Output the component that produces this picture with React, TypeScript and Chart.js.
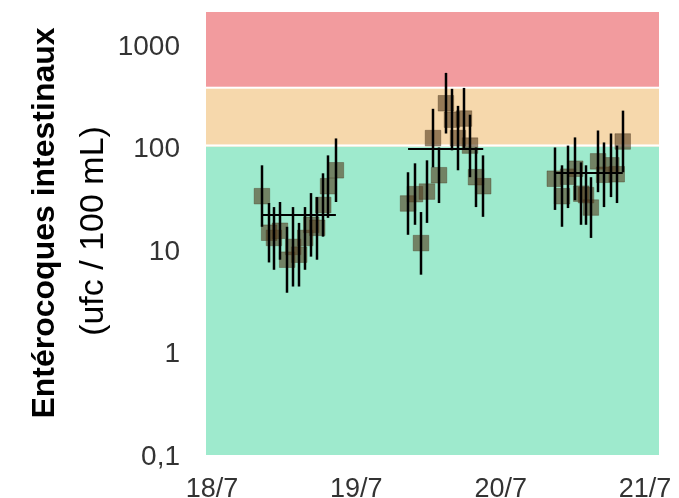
import React, { useEffect, useRef } from "react";
import { Chart, registerables } from "chart.js";

Chart.register(...registerables);

// ---- Axis data ----
const dayTickHours = [0, 24, 48, 72];
const dayLabels = ["18/7", "19/7", "20/7", "21/7"];
const yTickValues = [0.1, 1, 10, 100, 1000];
const yTickLabels = ["0,1", "1", "10", "100", "1000"];
const yMin = 0.1;
const yMax = 2190;
const xMinHours = -1;
const xMaxHours = 74.33;

// ---- Quality thresholds (band limits) ----
const bandLimits = [100, 400];

// ---- Series: hours since 18/7 00:00, values, lower/upper error ----
const hours1 = [8.3, 9.5, 10.3, 11.3, 12.5, 13.5, 14.5, 15.5, 16.5, 17.5, 18.5, 19.3, 20.6];
const values1 = [35, 15.4, 13.7, 16.1, 8.4, 11.2, 9.4, 13.7, 18.4, 17.2, 28.7, 43.8, 62.6];
const low1 = [17.6, 7.9, 6.7, 8.4, 4.0, 4.6, 4.6, 6.7, 9.0, 8.4, 14.1, 21.5, 30.7];
const high1 = [70, 30, 27.4, 30.7, 17.6, 27.4, 19.2, 27.4, 37.5, 34.3, 58.5, 87.5, 128];

const hours2 = [32.6, 33.75, 34.75, 35.75, 36.75, 37.75, 38.9, 39.9, 40.9, 41.9, 42.9, 43.9, 45.1];
const values2 = [29.7, 36.6, 12.2, 38.8, 129, 56, 282, 195, 129, 200, 109, 53.6, 43.8];
const low2 = [14.7, 18.4, 6.0, 19.2, 66.9, 30, 143, 98, 62.6, 100, 53.6, 27.4, 22];
const high2 = [59.9, 73.2, 24.5, 78.3, 249, 104.5, 558, 390, 266, 398, 218, 104.5, 87.5];

const hours3 = [57.0, 58.2, 59.2, 60.4, 61.4, 62.2, 63.0, 64.2, 65.2, 66.4, 67.3, 68.3];
const values3 = [51.8, 35, 54.2, 64.8, 37, 35.8, 27.1, 76.5, 56.6, 70, 57.3, 119.5];
const low3 = [25.7, 17.6, 26.8, 32, 18.4, 18.4, 13.7, 38.3, 27.4, 34.3, 30, 59.9];
const high3 = [104.5, 70, 109, 131, 74.8, 70, 53.6, 153, 117, 143, 109, 239];

// ---- Mean per campaign ----
const meanValues = [23, 101, 58.5];
const meanStartHours = [8.3, 32.6, 57.0];
const meanEndHours = [20.6, 45.1, 68.3];

const FONT = "'Liberation Sans', Arial, sans-serif";

const series = [
  { h: hours1, v: values1, lo: low1, hi: high1 },
  { h: hours2, v: values2, lo: low2, hi: high2 },
  { h: hours3, v: values3, lo: low3, hi: high3 },
];

const bandsPlugin = {
  id: "bands",
  beforeDatasetsDraw(chart: any) {
    const { ctx, chartArea, scales } = chart;
    const { left, right, top, bottom } = chartArea;
    const w = right - left;
    const y100 = scales.y.getPixelForValue(bandLimits[0]);
    const y400 = scales.y.getPixelForValue(bandLimits[1]);
    ctx.save();
    ctx.fillStyle = "rgb(158,234,205)";
    ctx.fillRect(left, y100 - 3, w, bottom - 2 - (y100 - 3));
    ctx.fillStyle = "rgb(246,216,172)";
    ctx.fillRect(left, y400, w, y100 - 3 - y400);
    ctx.fillStyle = "rgb(242,155,158)";
    ctx.fillRect(left, top, w, y400 - top);
    ctx.fillStyle = "#ffffff";
    ctx.fillRect(left, y100 - 5, w, 2);
    ctx.fillRect(left, y400 - 1, w, 2);
    ctx.restore();
  },
};

const errorBarsPlugin = {
  id: "errorBars",
  afterDatasetsDraw(chart: any) {
    const { ctx, scales } = chart;
    ctx.save();
    ctx.strokeStyle = "#000";
    ctx.lineWidth = 2.5;
    series.forEach((s) => {
      s.h.forEach((hr, i) => {
        const x = Math.round(scales.x.getPixelForValue(hr));
        const y1 = scales.y.getPixelForValue(s.lo[i]);
        const y2 = scales.y.getPixelForValue(s.hi[i]);
        ctx.beginPath();
        ctx.moveTo(x, y1);
        ctx.lineTo(x, y2);
        ctx.stroke();
      });
    });
    ctx.lineWidth = 2;
    meanValues.forEach((m, i) => {
      const y = Math.round(scales.y.getPixelForValue(m));
      ctx.beginPath();
      ctx.moveTo(scales.x.getPixelForValue(meanStartHours[i]), y);
      ctx.lineTo(scales.x.getPixelForValue(meanEndHours[i]), y);
      ctx.stroke();
    });
    ctx.restore();
  },
};

const titlePlugin = {
  id: "yTitle",
  afterDraw(chart: any) {
    const { ctx } = chart;
    ctx.save();
    ctx.fillStyle = "#000";
    ctx.textAlign = "center";
    ctx.textBaseline = "middle";
    ctx.translate(45, 223);
    ctx.rotate(-Math.PI / 2);
    ctx.font = `bold 32px ${FONT}`;
    ctx.fillText("Entérocoques intestinaux", 0, 0);
    ctx.restore();
    ctx.save();
    ctx.fillStyle = "#000";
    ctx.textAlign = "center";
    ctx.textBaseline = "middle";
    ctx.translate(94, 231);
    ctx.rotate(-Math.PI / 2);
    ctx.font = `34px ${FONT}`;
    ctx.fillText("(ufc / 100 mL)", 0, 0);
    ctx.restore();
  },
};

export default function App() {
  const canvasRef = useRef<HTMLCanvasElement | null>(null);

  useEffect(() => {
    if (!canvasRef.current) return;
    const pointStyle = {
      pointStyle: "rect" as const,
      pointRadius: 11,
      pointHoverRadius: 11,
      backgroundColor: "rgba(85,60,30,0.6)",
      borderColor: "rgba(70,50,25,0.35)",
      borderWidth: 1,
      showLine: false,
    };
    const chart = new Chart(canvasRef.current, {
      type: "scatter",
      data: {
        datasets: series.map((s) => ({
          data: s.h.map((hr, i) => ({ x: hr, y: s.v[i] })),
          ...pointStyle,
        })),
      },
      options: {
        responsive: false,
        animation: false,
        layout: { padding: { top: 10, right: 20, left: 0, bottom: 0 } },
        plugins: { legend: { display: false }, tooltip: { enabled: false } },
        scales: {
          x: {
            type: "linear",
            min: xMinHours,
            max: xMaxHours,
            grid: { display: false, drawTicks: false },
            border: { display: false },
            afterBuildTicks: (scale: any) => {
              scale.ticks = dayTickHours.map((v) => ({ value: v }));
            },
            afterFit: (scale: any) => {
              scale.height = 41;
              scale.paddingLeft = 0;
              scale.paddingRight = 0;
              scale.paddingTop = 0;
              scale.paddingBottom = 0;
            },
            ticks: {
              autoSkip: false,
              maxRotation: 0,
              padding: 16,
              color: "#333",
              font: { family: FONT, size: 27 },
              callback: (v: any) => {
                const idx = dayTickHours.indexOf(Number(v));
                return idx >= 0 ? dayLabels[idx] : "";
              },
            },
          },
          y: {
            type: "logarithmic",
            min: yMin,
            max: yMax,
            grid: { display: false, drawTicks: false },
            border: { display: false },
            afterBuildTicks: (scale: any) => {
              scale.ticks = yTickValues.map((v) => ({ value: v }));
            },
            afterFit: (scale: any) => {
              scale.width = 206;
              scale.paddingLeft = 0;
              scale.paddingRight = 0;
              scale.paddingTop = 0;
              scale.paddingBottom = 0;
            },
            ticks: {
              autoSkip: false,
              padding: 26,
              color: "#333",
              font: { family: FONT, size: 28 },
              callback: (v: any) => {
                const idx = yTickValues.findIndex((t) => Math.abs(t - Number(v)) < 1e-9 * Math.max(1, t));
                return idx >= 0 ? yTickLabels[idx] : "";
              },
            },
          },
        },
      },
      plugins: [bandsPlugin, errorBarsPlugin, titlePlugin],
    });
    return () => chart.destroy();
  }, []);

  return (
    <div style={{ position: "fixed", left: 0, top: 0, width: 679, height: 498, background: "#fff" }}>
      <canvas ref={canvasRef} width={679} height={498} />
    </div>
  );
}
